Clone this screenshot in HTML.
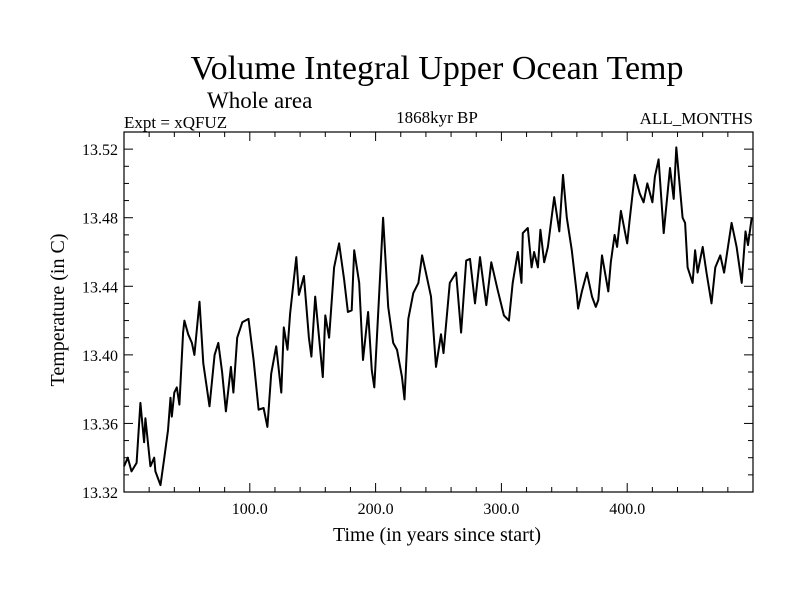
<!DOCTYPE html>
<html><head><meta charset="utf-8"><style>
body{margin:0;background:#fff;}
svg text{font-family:"Liberation Serif",serif;fill:#000;}
</style></head><body>
<svg id="chart" width="800" height="600" xmlns="http://www.w3.org/2000/svg">
<text x="437" y="79" font-size="34" text-anchor="middle">Volume Integral Upper Ocean Temp</text>
<text x="207" y="108" font-size="23">Whole area</text>
<text x="124" y="128" font-size="17">Expt = xQFUZ</text>
<text x="437" y="123" font-size="17" text-anchor="middle">1868kyr BP</text>
<text x="753" y="124" font-size="17" text-anchor="end">ALL_MONTHS</text>
<text transform="translate(64,310) rotate(-90)" font-size="20" text-anchor="middle">Temperature (in C)</text>
<text x="437" y="541" font-size="20" text-anchor="middle">Time (in years since start)</text>
<g id="axes"></g>
<path id="series" fill="none" stroke="#000" stroke-width="2" stroke-linejoin="round"/>
<rect x="124" y="132" width="629" height="360" fill="none" stroke="#000" stroke-width="1.2"/>
</svg>
<script>
const years=[0,3,6,10,13,16,17,21,24,25,29,32,35,37,38,40,42,44,47,48,51,54,56,60,63,68,72,75,78,81,85,87,90,94,99,103,107,111,114,117,121,125,127,130,132,137,139,143,147,149,152,158,160,163,167,171,175,178,181,183,187,190,194,197,199,203,206,210,214,217,221,223,226,230,234,237,240,244,248,252,254,259,264,268,272,275,279,283,286,288,292,297,302,306,309,313,316,317,321,324,326,329,331,334,337,342,346,349,352,356,360,361,364,368,372,375,377,380,385,387,390,392,395,400,402,406,410,413,416,420,422,425,429,434,437,439,444,446,448,452,454,456,460,463,467,470,474,477,483,487,491,494,496,499];
const temps=[13.335,13.340,13.332,13.337,13.372,13.349,13.363,13.335,13.340,13.332,13.324,13.340,13.356,13.375,13.364,13.378,13.381,13.371,13.413,13.420,13.412,13.407,13.400,13.431,13.395,13.370,13.400,13.407,13.390,13.367,13.393,13.378,13.410,13.419,13.421,13.397,13.368,13.369,13.358,13.389,13.405,13.378,13.416,13.403,13.424,13.457,13.435,13.446,13.410,13.399,13.434,13.387,13.423,13.410,13.451,13.465,13.444,13.425,13.426,13.461,13.442,13.397,13.425,13.391,13.381,13.438,13.480,13.428,13.407,13.403,13.387,13.374,13.421,13.436,13.442,13.458,13.448,13.434,13.393,13.412,13.401,13.442,13.448,13.413,13.455,13.456,13.430,13.457,13.440,13.429,13.454,13.438,13.423,13.420,13.442,13.460,13.442,13.471,13.474,13.451,13.460,13.451,13.473,13.454,13.463,13.492,13.472,13.505,13.480,13.461,13.435,13.427,13.437,13.448,13.434,13.428,13.432,13.458,13.437,13.454,13.470,13.463,13.484,13.465,13.479,13.505,13.494,13.489,13.500,13.489,13.504,13.514,13.471,13.509,13.491,13.521,13.480,13.477,13.451,13.442,13.461,13.448,13.463,13.448,13.430,13.451,13.458,13.448,13.477,13.463,13.442,13.472,13.464,13.480];
const xTickVals=[100,200,300,400];
const xTickLabels=["100.0","200.0","300.0","400.0"];
const yTickVals=[13.32,13.36,13.40,13.44,13.48,13.52];
const yTickLabels=["13.32","13.36","13.40","13.44","13.48","13.52"];

const X0=124,X1=753,Y0=492,Y1=132;
const xs=v=>X0+(v-0)/(500-0)*(X1-X0);
const ys=v=>Y0-(v-13.32)/(13.53-13.32)*(Y0-Y1);
const NS="http://www.w3.org/2000/svg";
const axes=document.getElementById('axes');
function line(x1,y1,x2,y2,name){const l=document.createElementNS(NS,'line');
l.setAttribute('x1',x1);l.setAttribute('y1',y1);l.setAttribute('x2',x2);l.setAttribute('y2',y2);
l.setAttribute('stroke','#000');l.setAttribute('stroke-width','1');


axes.appendChild(l);}
function text(x,y,s,anchor,name){const t=document.createElementNS(NS,'text');
t.setAttribute('x',x);t.setAttribute('y',y);t.setAttribute('font-size','16');t.setAttribute('text-anchor',anchor);t.textContent=s;


axes.appendChild(t);}
for(let v=20;v<500;v+=20){const x=xs(v);const major=v%100===0;const L=major?9:5;
line(x,Y0,x,Y0-L,'x-tick');line(x,Y1,x,Y1+L,'x-tick-top');}
for(let i=0;i<=20;i++){const v=13.32+i*0.01;const y=ys(v);if(y<Y1)continue;const major=i%4===0;const L=major?9:5;
line(X0,y,X0+L,y,'y-tick');line(X1,y,X1-L,y,'y-tick-right');}
xTickVals.forEach((v,i)=>text(xs(v),Y0+22,xTickLabels[i],'middle','x-tick-label'));
yTickVals.forEach((v,i)=>text(X0-6,ys(v)+6,yTickLabels[i],'end','y-tick-label'));
let d='';years.forEach((yr,i)=>{d+=(i?'L':'M')+xs(yr).toFixed(1)+','+ys(temps[i]).toFixed(1);});
document.getElementById('series').setAttribute('d',d);
</script>
</body></html>
